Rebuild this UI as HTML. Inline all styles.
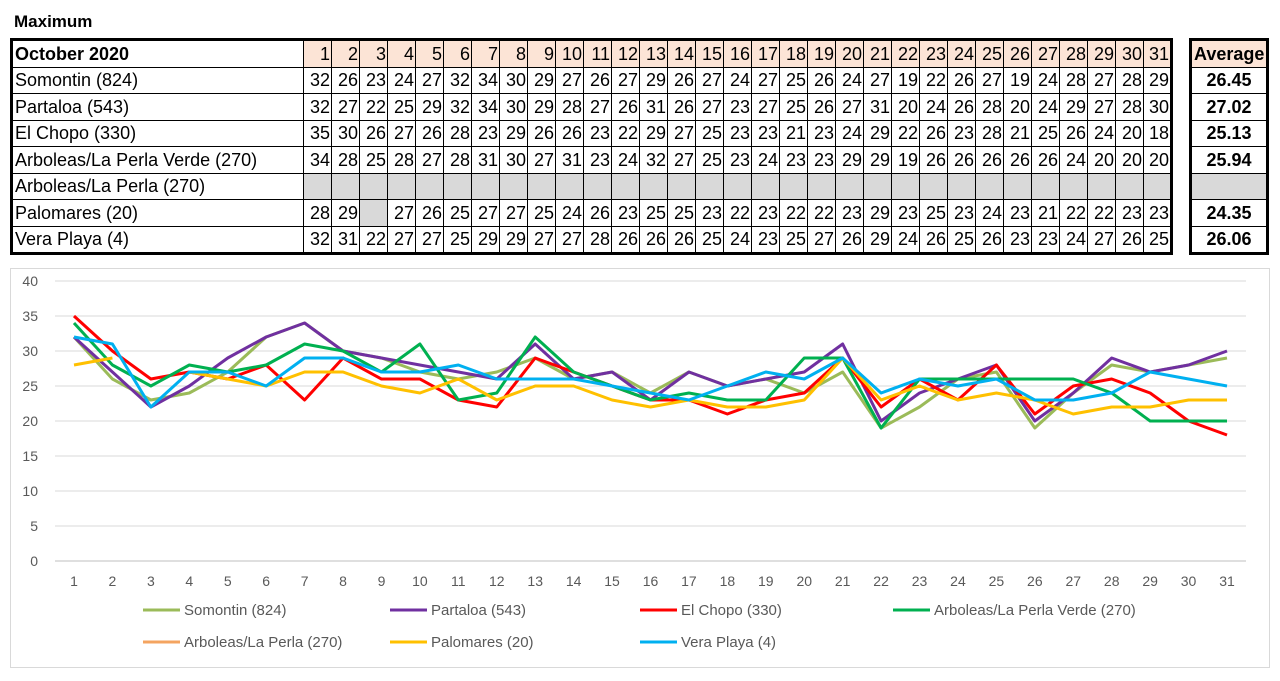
<!DOCTYPE html>
<html><head><meta charset="utf-8"><style>
body{margin:0;width:1280px;height:681px;background:#fff;font-family:"Liberation Sans",sans-serif;position:relative;overflow:hidden}
.title{position:absolute;left:14px;top:12px;font-weight:bold;font-size:17px}
table{border-collapse:collapse;position:absolute;font-size:18px;table-layout:fixed}
td{border:1px solid #000;padding:0 2px;height:25.5px;text-align:right;line-height:24px;white-space:nowrap;overflow:hidden}
#tbl{left:10px;top:38px;border:3px solid #000;width:1163px}
#avg{left:1189px;top:38px;border:3px solid #000;width:80px}
#avg td{text-align:center;font-weight:bold}
td.lab{text-align:left;width:286px}
td.hd{background:#fce4d6}
td.gr{background:#d9d9d9}
#chart{position:absolute;left:0;top:0}
</style></head><body>
<div class="title">Maximum</div>
<table id="tbl"></table>
<table id="avg"></table>
<svg id="chart" width="1280" height="681"></svg>
<script>
const days=[];for(let i=1;i<=31;i++)days.push(i);
const names=["Somontin (824)","Partaloa (543)","El Chopo (330)","Arboleas/La Perla Verde (270)","Arboleas/La Perla (270)","Palomares (20)","Vera Playa (4)"];
const colors=["#9bbb59","#7030a0","#ff0000","#00b050","#f4a460","#ffc000","#00b0f0"];
const somontin=[32,26,23,24,27,32,34,30,29,27,26,27,29,26,27,24,27,25,26,24,27,19,22,26,27,19,24,28,27,28,29];
const partaloa=[32,27,22,25,29,32,34,30,29,28,27,26,31,26,27,23,27,25,26,27,31,20,24,26,28,20,24,29,27,28,30];
const elchopo=[35,30,26,27,26,28,23,29,26,26,23,22,29,27,25,23,23,21,23,24,29,22,26,23,28,21,25,26,24,20,18];
const verde=[34,28,25,28,27,28,31,30,27,31,23,24,32,27,25,23,24,23,23,29,29,19,26,26,26,26,26,24,20,20,20];
const perla=new Array(31).fill(null);
const palomares=[28,29,null,27,26,25,27,27,25,24,26,23,25,25,23,22,23,22,22,23,29,23,25,23,24,23,21,22,22,23,23];
const vera=[32,31,22,27,27,25,29,29,27,27,28,26,26,26,25,24,23,25,27,26,29,24,26,25,26,23,23,24,27,26,25];
const series=[somontin,partaloa,elchopo,verde,perla,palomares,vera];
const averages=["26.45","27.02","25.13","25.94","","24.35","26.06"];
const yTicks=[0,5,10,15,20,25,30,35,40];

const tbl=document.getElementById('tbl');
let tr=document.createElement('tr');
let td=document.createElement('td');td.className='lab';td.style.fontWeight='bold';td.textContent='October 2020';


tr.appendChild(td);
days.forEach(d=>{const c=document.createElement('td');c.className='hd';c.textContent=d;


tr.appendChild(c);});
tbl.appendChild(tr);
series.forEach((s,i)=>{const r=document.createElement('tr');
const l=document.createElement('td');l.className='lab';l.textContent=names[i];


r.appendChild(l);
s.forEach(v=>{const c=document.createElement('td');if(v===null)c.className='gr';else c.textContent=v;


r.appendChild(c);});
tbl.appendChild(r);});
const avg=document.getElementById('avg');
tr=document.createElement('tr');td=document.createElement('td');td.className='hd';td.textContent='Average';


tr.appendChild(td);avg.appendChild(tr);
averages.forEach(a=>{const r=document.createElement('tr');const c=document.createElement('td');
if(a==='')c.className='gr';c.textContent=a;


r.appendChild(c);avg.appendChild(r);});
document.querySelectorAll('#tbl tr').forEach(r=>{for(let k=1;k<r.children.length;k++){r.children[k].style.padding='0 1px';}});

const svg=document.getElementById('chart');const NS='http://www.w3.org/2000/svg';
function el(t,a){const e=document.createElementNS(NS,t);for(const k in a)e.setAttribute(k,a[k]);svg.appendChild(e);return e;}
const xs=d=>74+(d-1)*(1227-74)/30;
const ys=v=>561-v*7;
const frame=el('rect',{x:10.5,y:268.5,width:1259,height:399,fill:'none',stroke:'#d9d9d9'});


yTicks.forEach(t=>{
 const g=el('line',{x1:55,x2:1246,y1:ys(t),y2:ys(t),stroke:t===0?'#bfbfbf':'#d9d9d9'});
 
 
 const tx=el('text',{x:38,y:ys(t)+5,'text-anchor':'end','font-size':14,fill:'#595959'});tx.textContent=t;
 
 
});
days.forEach(d=>{const tx=el('text',{x:xs(d),y:586,'text-anchor':'middle','font-size':14,fill:'#595959'});tx.textContent=d;
 
 
});
series.forEach((s,i)=>{let d='';let pen=false;
 s.forEach((v,j)=>{if(v===null){pen=false;return;}d+=(pen?'L':'M')+xs(days[j])+' '+ys(v);pen=true;});
 if(d){const p=el('path',{d:d,fill:'none',stroke:colors[i],'stroke-width':3,'stroke-linejoin':'round'});
 
 }
});
const legX=[143,390,640,893];
names.forEach((n,i)=>{const lx=legX[i%4],ly=i<4?610:642;
 const l=el('line',{x1:lx,x2:lx+37,y1:ly,y2:ly,stroke:colors[i],'stroke-width':3});
 
 
 const t=el('text',{x:lx+41,y:ly+5,'font-size':15,fill:'#595959'});t.textContent=n;
 
 
});
</script>
</body></html>
